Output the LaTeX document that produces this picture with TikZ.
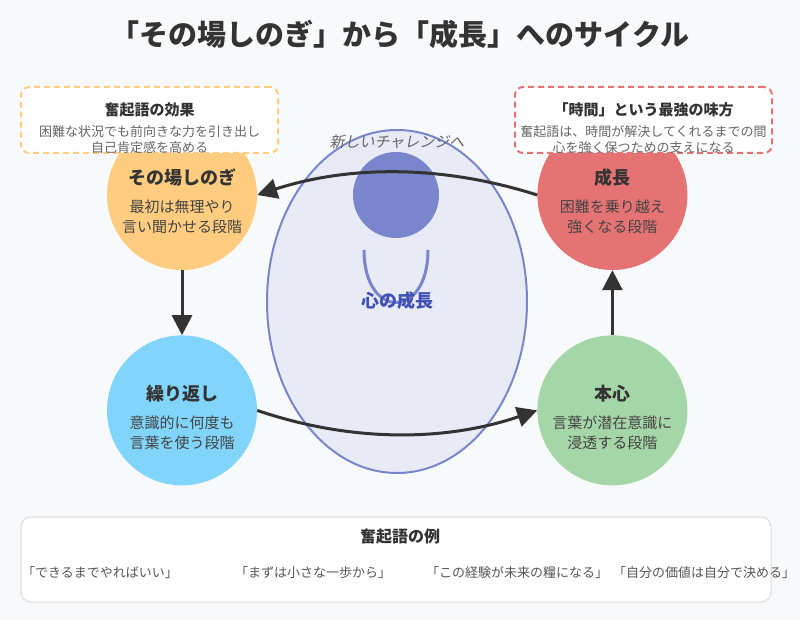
\documentclass[tikz,border=0pt]{standalone}
\usepackage{fontspec}
\setmainfont{Noto Sans CJK JP}
\newfontfamily\slantjp{Noto Sans CJK JP}[FakeSlant=0.2]
\usetikzlibrary{positioning,calc,arrows.meta,shapes.geometric}

\definecolor{bgcol}{HTML}{F8F9FA}
\definecolor{textdark}{HTML}{333333}
\definecolor{textmid}{HTML}{444444}
\definecolor{textgray}{HTML}{666666}
\definecolor{sonobacol}{HTML}{FFCC80}
\definecolor{kurikaeshicol}{HTML}{81D4FA}
\definecolor{honshincol}{HTML}{A5D6A7}
\definecolor{seichoucol}{HTML}{E57373}
\definecolor{mindfill}{HTML}{E8EAF6}
\definecolor{mindline}{HTML}{7986CB}
\definecolor{mindtext}{HTML}{3F51B5}
\definecolor{framecol}{HTML}{DDDDDD}

\tikzset{
  stage/.style={circle, minimum size=150pt, inner sep=0pt},
  stagetitle/.style={font=\bfseries\fontsize{18}{22}\selectfont, text=textdark, inner sep=0pt},
  stagedesc/.style={font=\fontsize{15}{20}\selectfont, text=textmid, align=center, inner sep=0pt},
  cycle/.style={-{Triangle[length=20pt,width=20pt]}, line width=3pt, draw=textdark},
  notebox/.style={rounded corners=8pt, fill=white, line width=2pt,
    dash pattern=on 6pt off 4pt, minimum width=257pt, minimum height=66pt},
  notetitle/.style={font=\bfseries\fontsize{15}{18}\selectfont, text=textdark, inner sep=0pt},
  notedesc/.style={font=\fontsize{13}{16}\selectfont, text=textgray, align=center, inner sep=0pt},
  phrase/.style={font=\fontsize{13}{16}\selectfont, text=textmid!90, inner sep=0pt},
}

\begin{document}
\begin{tikzpicture}[x=1pt,y=-1pt]
  \fill[bgcol] (0,0) rectangle (800,620);
  \useasboundingbox (0,0) rectangle (800,620);

  \node[font=\bfseries\fontsize{29}{34}\selectfont, text=textdark] (title) at (400,34)
    {「その場しのぎ」から「成長」へのサイクル};

  % center figure
  \node[ellipse, draw=mindline, fill=mindfill, line width=2pt, inner sep=0pt,
    minimum width=260pt, minimum height=343pt] (mind) at (397,301.5) {};
  \node[circle, fill=mindline, minimum size=86pt, inner sep=0pt] (head) at (396,195) {};
  \draw[mindline, line width=3pt] (364,250) .. controls (364,320) and (428,320) .. (428,250);
  \node[font=\bfseries\fontsize{18}{22}\selectfont, text=mindtext, inner sep=0pt] (mindlabel) at (397,301) {心の成長};
  \node[font=\slantjp\fontsize{15}{18}\selectfont, text=textgray, inner sep=0pt] (challenge) at (397,142) {新しいチャレンジへ};

  % stages
  \node[stage, fill=sonobacol] (sonoba) at (182,195) {};
  \node[stage, fill=kurikaeshicol, below=65pt of sonoba] (kurikaeshi) {};
  \node[stage, fill=honshincol, right=280pt of kurikaeshi] (honshin) {};
  \node[stage, fill=seichoucol, above=65pt of honshin] (seichou) {};

  \node[stagetitle] at ($(sonoba)+(0,-17)$) {その場しのぎ};
  \node[stagedesc] at ($(sonoba)+(0,22)$) {最初は無理やり\\言い聞かせる段階};
  \node[stagetitle] at ($(kurikaeshi)+(0,-17)$) {繰り返し};
  \node[stagedesc] at ($(kurikaeshi)+(0,22)$) {意識的に何度も\\言葉を使う段階};
  \node[stagetitle] at ($(honshin)+(0,-17)$) {本心};
  \node[stagedesc] at ($(honshin)+(0,22)$) {言葉が潜在意識に\\浸透する段階};
  \node[stagetitle] at ($(seichou)+(0,-17)$) {成長};
  \node[stagedesc] at ($(seichou)+(0,22)$) {困難を乗り越え\\強くなる段階};

  % cycle arrows
  \draw[cycle] (sonoba) -- (kurikaeshi);
  \draw[cycle] (kurikaeshi.east) .. controls (350,442) and (444,442) .. (honshin.west);
  \draw[cycle] (honshin) -- (seichou);
  \draw[cycle] (seichou.west) .. controls (443,165) and (350,165) .. (sonoba.east);

  % notes
  \node[notebox, draw=sonobacol] (effect) at (149.5,120) {};
  \node[notetitle] at ($(effect)+(0,-10)$) {奮起語の効果};
  \node[notedesc] at ($(effect)+(0,20)$) {困難な状況でも前向きな力を引き出し\\自己肯定感を高める};
  \node[notebox, draw=seichoucol] (ally) at (643.5,120) {};
  \node[notetitle] at ($(ally)+(0,-10)$) {「時間」という最強の味方};
  \node[notedesc] at ($(ally)+(0,20)$) {奮起語は、時間が解決してくれるまでの間\\心を強く保つための支えになる};

  % examples
  \node[draw=framecol, fill=white, rounded corners=10pt, line width=1pt,
    minimum width=750pt, minimum height=85pt] (examples) at (396,559.5) {};
  \node[font=\bfseries\fontsize{16}{19}\selectfont, text=textdark, inner sep=0pt] at (400,537) {奮起語の例};
  \node[phrase] at (100,573) {「できるまでやればいい」};
  \node[phrase] at (313,573) {「まずは小さな一歩から」};
  \node[phrase] at (517,573) {「この経験が未来の糧になる」};
  \node[phrase] at (704,573) {「自分の価値は自分で決める」};
\end{tikzpicture}
\end{document}
